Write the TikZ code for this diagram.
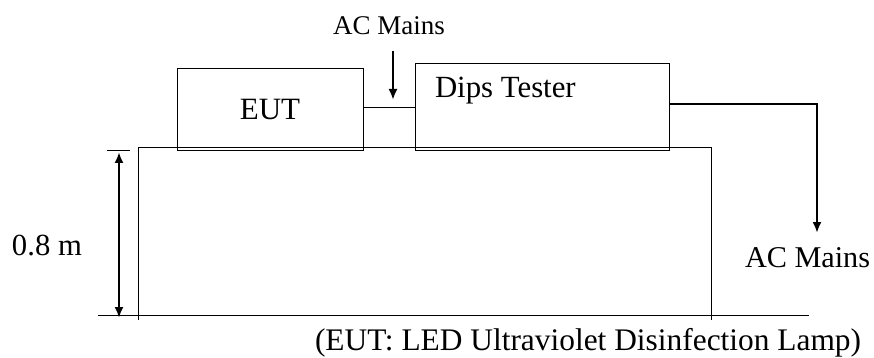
\documentclass[tikz,border=0pt]{standalone}
\usepackage{fontspec}
\setmainfont{Liberation Serif}
\usetikzlibrary{arrows.meta}
\begin{document}
\begin{tikzpicture}[x=1pt,y=-1pt,
  box/.style={draw=black,line width=1pt,inner sep=0pt,outer sep=0pt},
  lbl/.style={inner sep=0pt,outer sep=0pt,anchor=base west},
  thin/.style={draw=black,line width=1pt},
  arr/.style={draw=black,line width=2.2pt,-{Latex[length=11pt,width=9pt]}},
  dimarr/.style={draw=black,line width=2.2pt,{Latex[length=11pt,width=9pt]}-{Latex[length=11pt,width=9pt]}}]
\useasboundingbox (0,0) rectangle (874,358);
% table and floor
\coordinate (tl) at (138,148);
\coordinate (tr) at (711,148);
\coordinate (bl) at (138,320);
\coordinate (br) at (711,320);
\draw[thin] (bl) -- (tl) -- (tr) -- (br);
\coordinate (fl) at (98,315);
\coordinate (fr) at (809,315);
\draw[thin] (fl) -- (fr);
% boxes
\node[box,minimum width=186pt,minimum height=82pt,font=\fontsize{31}{36}\selectfont] (eut) at (270,110) {EUT};
\node[box,minimum width=254pt,minimum height=87pt] (dips) at (542,107.5) {};
\node[lbl,font=\fontsize{30.8}{36}\selectfont] (dipslbl) at (435,98) {Dips Tester};
\draw[thin] (dips.west) -- (dips.west -| eut.east);
% top AC mains
\node[lbl,font=\fontsize{27}{32}\selectfont] (acin) at (333,35) {AC Mains};
\coordinate (acinA) at (393,51);
\coordinate (acinB) at (393,100);
\draw[arr] (acinA) -- (acinB);
% output AC mains
\node[lbl,font=\fontsize{30.2}{36}\selectfont] (acout) at (745,267) {AC Mains};
\coordinate (outA) at (669,104);
\coordinate (outB) at (817,104);
\coordinate (outC) at (817,233);
\draw[arr] (outA) -- (outB) -- (outC);
% height dimension
\coordinate (tickA) at (107,151);
\coordinate (tickB) at (130,151);
\draw[thin] (tickA) -- (tickB);
\coordinate (dimA) at (119,152);
\coordinate (dimB) at (119,318);
\draw[dimarr] (dimA) -- (dimB);
\node[lbl,font=\fontsize{30.7}{36}\selectfont] (height) at (12,255) {0.8 m};
% caption
\node[lbl,font=\fontsize{31.4}{36}\selectfont] (caption) at (315,350) {(EUT: LED Ultraviolet Disinfection Lamp)};
\end{tikzpicture}
\end{document}
